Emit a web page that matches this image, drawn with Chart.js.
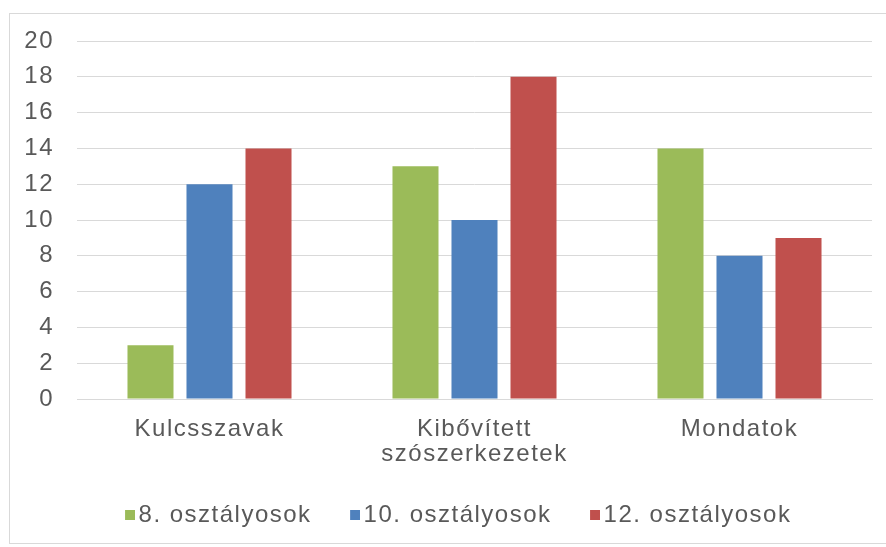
<!DOCTYPE html>
<html><head><meta charset="utf-8">
<script src="https://cdn.jsdelivr.net/npm/chart.js@4/dist/chart.umd.min.js"></script>
<style>
html,body{margin:0;padding:0;background:#fff;overflow:hidden;}
#wrap{position:absolute;left:0;top:0;width:886px;height:547px;}
#frame{position:absolute;left:9px;top:13px;width:900px;height:529px;border:1px solid #d9d9d9;pointer-events:none;}
canvas{position:absolute;left:0;top:0;}
</style></head><body>
<div id="wrap"><canvas id="c" width="886" height="547"></canvas></div>
<div id="frame"></div>
<script>
const categories = ['Kulcsszavak', ['Kibővített', 'szószerkezetek'], 'Mondatok'];
const seriesNames = ['8. osztályosok', '10. osztályosok', '12. osztályosok'];
const grade8 = [3, 13, 14];
const grade10 = [12, 10, 8];
const grade12 = [14, 18, 9];
const yMin = 0, yMax = 20, yStep = 2;

const colors = ['#9bbb59', '#4f81bd', '#c0504d'];
const TEXT = '#595959';
const GRID = '#d9d9d9';
const FONT = { family: '"Liberation Sans", Arial, sans-serif', size: 24, lineHeight: 1.05 };
const SPACING = '1.5px';
const LEGEND_SHIFT = 13;

function legendMark(color) {
  const c = document.createElement('canvas');
  c.width = 27; c.height = 10;
  const g = c.getContext('2d');
  g.fillStyle = color;
  g.fillRect(17, 0, 10, 10);
  return c;
}
const marks = colors.map(legendMark);

const spacingPlugin = {
  id: 'spacing',
  beforeInit(chart) { chart.ctx.letterSpacing = SPACING; },
  beforeUpdate(chart) { chart.ctx.letterSpacing = SPACING; },
  beforeLayout(chart) { chart.ctx.letterSpacing = SPACING; },
  afterLayout(chart) {
    if (chart.legend) { chart.legend.left += LEGEND_SHIFT; chart.legend.right += LEGEND_SHIFT; }
  },
  beforeDraw(chart) { chart.ctx.letterSpacing = SPACING; }
};

const seriesData = [grade8, grade10, grade12];
new Chart(document.getElementById('c'), {
  type: 'bar',
  data: {
    labels: categories,
    datasets: seriesData.map((d, i) => ({
      label: seriesNames[i],
      data: d,
      backgroundColor: colors[i],
      borderWidth: 0,
      barPercentage: 0.78,
      categoryPercentage: 0.668
    }))
  },
  plugins: [spacingPlugin],
  options: {
    responsive: false,
    animation: false,
    devicePixelRatio: 1,
    layout: { padding: { left: 10, right: 14, top: 41, bottom: 10 } },
    plugins: {
      tooltip: { enabled: false },
      legend: {
        position: 'bottom',
        labels: {
          usePointStyle: true,
          boxWidth: 10,
          boxHeight: 10,
          padding: 30,
          color: TEXT,
          font: FONT,
          generateLabels(chart) {
            const items = Chart.defaults.plugins.legend.labels.generateLabels(chart);
            items.forEach((it, i) => { it.pointStyle = marks[i]; it.lineWidth = 0; });
            return items;
          }
        }
      }
    },
    scales: {
      x: {
        grid: { display: false, drawTicks: false },
        border: { display: true, color: GRID, width: 1 },
        ticks: { color: TEXT, font: FONT, padding: 18, maxRotation: 0, autoSkip: false },
        afterFit(scale) { scale.height = 74; }
      },
      y: {
        min: yMin, max: yMax,
        grid: { color: GRID, lineWidth: 1, drawTicks: false },
        border: { display: false },
        ticks: { stepSize: yStep, color: TEXT, font: FONT, padding: 23 },
        afterFit(scale) { scale.width = 67; }
      }
    }
  }
});
</script>
</body></html>
